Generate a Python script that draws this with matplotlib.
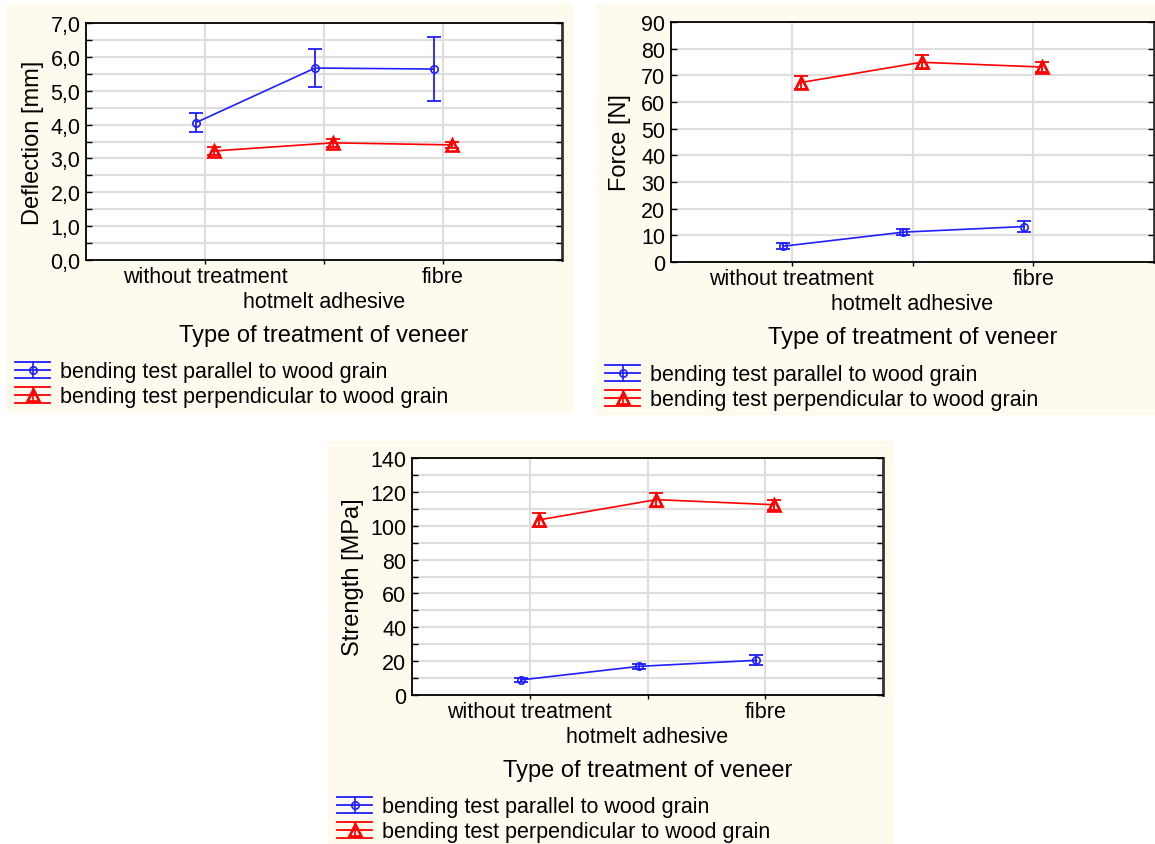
import matplotlib
matplotlib.use("Agg")
import matplotlib.pyplot as plt
from matplotlib.lines import Line2D
from matplotlib.patches import Rectangle
from matplotlib.ticker import MultipleLocator, FuncFormatter, FixedLocator, FixedFormatter
import numpy as np

plt.rcParams['font.family'] = ['Liberation Sans', 'DejaVu Sans']

categories = ["without treatment", "hotmelt adhesive", "fibre"]
legend_labels = ["bending test parallel to wood grain",
                 "bending test perpendicular to wood grain"]

# deflection [mm]
defl_par = [4.06, 5.67, 5.64]
defl_par_err = [0.27, 0.57, 0.95]
defl_perp = [3.22, 3.46, 3.40]
defl_perp_err = [0.13, 0.11, 0.10]

# force [N]
force_par = [5.9, 11.2, 13.3]
force_par_err = [1.2, 1.0, 2.0]
force_perp = [67.3, 74.9, 73.1]
force_perp_err = [2.4, 2.6, 2.0]

# strength [MPa]
str_par = [8.9, 16.9, 20.5]
str_par_err = [1.4, 1.4, 2.9]
str_perp = [103.4, 115.4, 112.4]
str_perp_err = [4.1, 4.2, 3.0]

W, H = 1155, 845
BLUE = '#1f1fff'
RED = '#ff0000'
CREAM = '#fefaed'
GRID = '#dedede'
OFF = 0.075
TICK_FS = 15.5
LAB_FS = 17

fig = plt.figure(figsize=(W / 100, H / 100), dpi=100)
fig.patch.set_facecolor('white')


def fx(px):
    return px / W


def fy(py):
    return 1 - py / H


def cream(x0, y0, x1, y1):
    fig.add_artist(Rectangle((fx(x0), fy(y1)), fx(x1) - fx(x0), fy(y0) - fy(y1),
                             transform=fig.transFigure, color=CREAM, zorder=-5))


def legend(x0, yc):
    rows = [(BLUE, 'o', 5.3, 1.2), (RED, '^', 8, 1.9)]
    for i, (c, m, ms, mew) in enumerate(rows):
        y = yc + 25 * i
        xs = [fx(x0), fx(x0 + 35)]
        xm = fx(x0 + 17.5)
        for dy in (-8, 0, 8):
            fig.add_artist(Line2D(xs, [fy(y + dy)] * 2, color=c, lw=1.3,
                                  transform=fig.transFigure))
        fig.add_artist(Line2D([xm, xm], [fy(y - 8), fy(y + 8)], color=c, lw=1.2,
                              transform=fig.transFigure))
        fig.add_artist(Line2D([xm], [fy(y)], marker=m, ms=ms, mfc='none', mec=c,
                              mew=mew, transform=fig.transFigure))
        fig.text(fx(x0 + 45), fy(y + 7.5), legend_labels[i], fontsize=TICK_FS,
                 va='baseline', ha='left')


def panel(box, par, par_err, perp, perp_err, ylabel, ymax, major, minor,
          fmt, ylab_x, right_minor):
    l, t, r, b = box
    ax = fig.add_axes([fx(l), fy(b), fx(r) - fx(l), fy(t) - fy(b)])
    ax.set_facecolor('white')
    x = np.arange(1, 4)

    ax.errorbar(x - OFF, par, yerr=par_err, fmt='none', ecolor=BLUE,
                elinewidth=1.3, capsize=4.7, capthick=1.3, zorder=3)
    ax.plot(x - OFF, par, color=BLUE, lw=1.2, marker='o', ms=5.3,
            mfc='none', mew=1.2, zorder=4)
    ax.errorbar(x + OFF, perp, yerr=perp_err, fmt='none', ecolor=RED,
                elinewidth=1.3, capsize=4.7, capthick=1.3, zorder=3)
    ax.plot(x + OFF, perp, color=RED, lw=1.2, marker='^', ms=8,
            mfc='none', mew=1.9, zorder=4)

    ax.set_xlim(0, 4)
    ax.set_ylim(0, ymax)
    # first row: outer categories on major ticks; second row: middle one on a minor tick
    ax.xaxis.remove_overlapping_locs = False
    ax.xaxis.set_major_locator(FixedLocator(x))
    ax.xaxis.set_major_formatter(FixedFormatter([categories[0], '', categories[2]]))
    ax.xaxis.set_minor_locator(FixedLocator([x[1]]))
    ax.xaxis.set_minor_formatter(FixedFormatter([categories[1]]))
    ax.yaxis.set_major_locator(MultipleLocator(major))
    ax.yaxis.set_minor_locator(MultipleLocator(minor))
    ax.yaxis.set_major_formatter(FuncFormatter(fmt))

    ax.grid(axis='y', which='both', color=GRID, lw=1.5)
    ax.grid(axis='x', which='major', color=GRID, lw=1.5)
    ax.set_axisbelow(True)

    ax.tick_params(axis='x', which='major', direction='out', length=3, width=1,
                   pad=1.5, labelsize=TICK_FS, colors='black')
    ax.tick_params(axis='x', which='minor', length=0, pad=22,
                   labelsize=TICK_FS, colors='black')
    ax.tick_params(axis='y', which='both', direction='in', length=4, width=1,
                   left=True, right=True, pad=4, labelsize=TICK_FS)
    if not right_minor:
        ax.tick_params(axis='y', which='minor', right=False)

    for s in ax.spines.values():
        s.set_linewidth(1.3)
        s.set_color('black')
    ax.spines['right'].set_linewidth(2)
    ax.spines['right'].set_color('#333333')

    ax.set_ylabel(ylabel, fontsize=LAB_FS)
    ax.yaxis.set_label_coords(ylab_x, 0.5)
    ax.yaxis.label.set_va('center')
    ax.set_xlabel("Type of treatment of veneer", fontsize=LAB_FS)
    ax.xaxis.set_label_coords(0.5, -75 / (b - t))
    ax.xaxis.label.set_va('center')
    return ax


cream(7, 5, 572, 413)
cream(596, 5, 1155, 415)
cream(328, 442, 893, 845)

panel((86, 24, 562, 261), defl_par, defl_par_err, defl_perp, defl_perp_err,
      "Deflection [mm]", 7.0, 1.0, 0.5,
      lambda v, p: f"{v:.1f}".replace('.', ','), -0.111, True)
panel((671, 23, 1154, 263), force_par, force_par_err, force_perp, force_perp_err,
      "Force [N]", 90, 10, 10, lambda v, p: f"{v:.0f}", -0.106, False)
panel((412, 459, 883, 696), str_par, str_par_err, str_perp, str_perp_err,
      "Strength [MPa]", 140, 20, 10, lambda v, p: f"{v:.0f}", -0.125, True)

legend(15, 371)
legend(605, 374)
legend(337, 806)

fig.savefig("out.png", dpi=100, facecolor='white')
